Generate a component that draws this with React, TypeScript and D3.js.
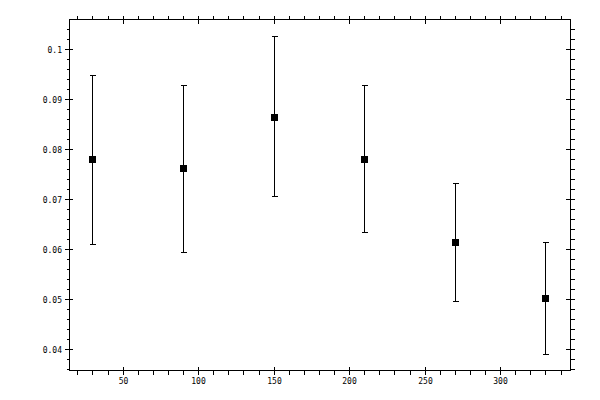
import * as d3 from "d3";

// angle positions and measured values with lower / upper error limits
const xs = [30, 90, 150, 210, 270, 330];
const values = [0.078, 0.0762, 0.0864, 0.078, 0.0614, 0.0502];
const lows = [0.061, 0.0594, 0.0705, 0.0634, 0.0496, 0.039];
const highs = [0.0948, 0.0928, 0.1026, 0.0928, 0.0732, 0.0614];

const xTicks = [50, 100, 150, 200, 250, 300];
const yTicks = [0.04, 0.05, 0.06, 0.07, 0.08, 0.09, 0.1];

const W = 600;
const H = 400;
const left = 69.5;
const right = 570.5;
const top = 19.5;
const bottom = 370.5;

export default function App() {
  const x = d3.scaleLinear().domain([14.8, 346.6]).range([left, right]);
  const y = d3.scaleLinear().domain([0.0357, 0.1058]).range([bottom, top]);

  const xMinor = d3.range(20, 346, 10).filter(v => v % 50 !== 0);
  const yMinor = d3.range(36, 106, 2).map(v => v / 1000).filter(v => Math.round(v * 1000) % 10 !== 0);

  const px = (v: number) => Math.round(x(v)) + 0.5;
  const py = (v: number) => Math.round(y(v)) + 0.5;

  const font = "'DejaVu Sans Mono', monospace";

  return (
    <svg
      width={W}
      height={H}
      style={{ position: "fixed", left: 0, top: 0, background: "#fff" }}
    >
      <g stroke="#000" strokeWidth={1} shapeRendering="crispEdges" fill="none">
        <rect x={left} y={top} width={right - left} height={bottom - top} />

        {/* x ticks, bottom and top */}
        {xTicks.map(t => (
          <g key={`xt-${t}`}>
            <line x1={px(t)} x2={px(t)} y1={bottom - 4} y2={bottom + 4} />
            <line x1={px(t)} x2={px(t)} y1={top - 4} y2={top + 4} />
          </g>
        ))}
        {xMinor.map(t => (
          <g key={`xm-${t}`}>
            <line x1={px(t)} x2={px(t)} y1={bottom} y2={bottom + 4} />
            <line x1={px(t)} x2={px(t)} y1={top - 4} y2={top} />
          </g>
        ))}

        {/* y ticks, left and right */}
        {yTicks.map(t => (
          <g key={`yt-${t}`}>
            <line x1={left - 5} x2={left + 3} y1={py(t)} y2={py(t)} />
            <line x1={right - 5} x2={right + 4} y1={py(t)} y2={py(t)} />
          </g>
        ))}
        {yMinor.map(t => (
          <g key={`ym-${t}`}>
            <line x1={left - 3} x2={left} y1={py(t)} y2={py(t)} />
            <line x1={right} x2={right + 4} y1={py(t)} y2={py(t)} />
          </g>
        ))}

        {/* error bars */}
        {xs.map((d, i) => (
          <g key={`eb-${i}`}>
            <line x1={px(d)} x2={px(d)} y1={py(lows[i])} y2={py(highs[i])} />
            <line x1={px(d) - 3} x2={px(d) + 3} y1={py(lows[i])} y2={py(lows[i])} />
            <line x1={px(d) - 3} x2={px(d) + 3} y1={py(highs[i])} y2={py(highs[i])} />
          </g>
        ))}
      </g>

      {/* markers */}
      {xs.map((d, i) => (
        <rect
          key={`pt-${i}`}
          x={Math.round(x(d)) - 3}
          y={Math.round(y(values[i])) - 3}
          width={7}
          height={7}
          fill="#000"
          shapeRendering="crispEdges"
        />
      ))}

      {/* labels */}
      <g fontFamily={font} fontSize={8} fill="#000">
        {yTicks.map(t => (
          <text key={`yl-${t}`} x={62} y={py(t) + 3} textAnchor="end">
            {d3.format("~g")(t)}
          </text>
        ))}
        {xTicks.map(t => (
          <text key={`xl-${t}`} x={px(t)} y={384} textAnchor="middle">
            {t}
          </text>
        ))}
      </g>
    </svg>
  );
}
